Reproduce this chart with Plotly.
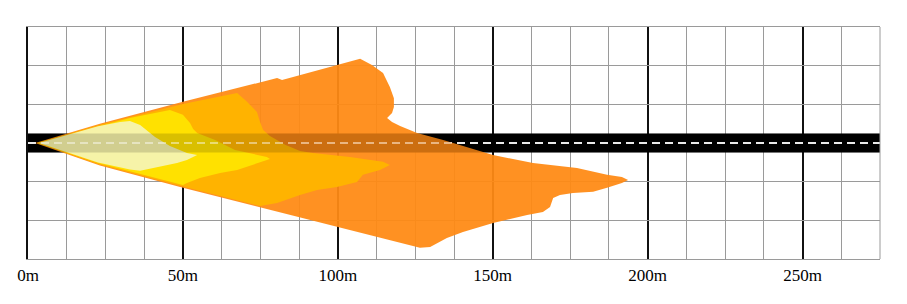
import plotly.graph_objects as go

# ---- axes ----
X_RANGE = [0, 275]
Y_RANGE = [-37.5, 37.5]
X_TICKS = [0, 50, 100, 150, 200, 250]
X_LABELS = ["0m", "50m", "100m", "150m", "200m", "250m"]
MINOR_STEP = 12.5
ROAD_HALF_WIDTH = 3.1

# ---- light pattern zones (metres: distance, lateral offset) ----
ORANGE_X = [2.3, 23.2, 50.0, 80.4, 82.0, 99.7, 107.2, 111.0, 114.6, 116.8, 118.1, 118.1,
            117.5, 115.9, 117.5, 120.1, 125.6, 134.0, 141.7, 150.1, 163.0, 177.2, 186.9,
            191.7, 193.7, 191.7, 186.9, 182.4, 175.9, 171.7, 169.5, 168.5, 166.2, 161.1,
            150.1, 140.4, 135.2, 129.8, 126.5, 100.1, 50.0, 23.2, 2.3]
ORANGE_Y = [0.0, 6.2, 13.3, 21.0, 20.4, 25.2, 27.2, 25.2, 22.6, 18.1, 14.5, 11.6,
            9.7, 8.1, 6.8, 5.5, 3.2, 1.0, -1.3, -3.9, -6.5, -8.1, -10.3,
            -11.0, -12.0, -12.9, -14.5, -15.8, -16.2, -16.8, -17.8, -20.7, -22.3, -23.3,
            -25.9, -28.8, -30.7, -33.6, -33.9, -27.2, -14.5, -7.3, 0.0]

AMBER_X = [2.9, 23.2, 50.0, 67.5, 70.7, 73.9, 74.9, 75.9, 78.1, 83.0, 87.8, 92.0, 103.9,
           114.6, 116.8, 113.6, 108.1, 106.2, 99.7, 93.3, 87.8, 80.4, 74.9, 50.0, 23.2, 2.9]
AMBER_Y = [0.0, 5.9, 12.6, 16.2, 13.3, 10.0, 6.8, 4.2, 2.3, -0.6, -2.6, -3.2, -4.5,
           -6.1, -7.1, -8.7, -10.3, -12.6, -14.2, -15.2, -16.8, -19.4, -20.4, -14.1, -7.0, 0.0]

YELLOW_X = [3.2, 23.2, 32.9, 45.8, 50.0, 52.3, 53.3, 54.6, 60.4, 66.8, 73.3, 77.1, 78.1,
            75.5, 72.6, 67.5, 62.0, 55.5, 51.3, 50.0, 23.2, 3.2]
YELLOW_Y = [0.0, 5.6, 8.1, 10.7, 9.1, 6.5, 4.5, 3.2, 1.0, -2.3, -3.6, -4.5, -5.2,
            -6.1, -7.1, -8.7, -9.7, -11.3, -12.9, -13.6, -6.6, 0.0]

LIGHT_X = [3.6, 22.6, 29.7, 32.9, 36.2, 38.7, 41.0, 45.8, 51.3, 54.6, 51.3, 48.1,
           40.3, 36.2, 32.9, 22.6, 3.6]
LIGHT_Y = [0.0, 5.4, 6.8, 7.1, 5.8, 3.6, 1.9, -1.0, -3.2, -3.9, -5.5, -6.5,
           -8.1, -9.0, -8.6, -6.3, 0.0]

ZONES = [
    (ORANGE_X, ORANGE_Y, "rgba(255,138,20,0.94)"),
    (AMBER_X, AMBER_Y, "#FFB300"),
    (YELLOW_X, YELLOW_Y, "#FFE100"),
    (LIGHT_X, LIGHT_Y, "#F6F3A8"),
]

fig = go.Figure()
for xs, ys, col in ZONES:
    fig.add_trace(go.Scatter(x=xs, y=ys, mode="lines", fill="toself", fillcolor=col,
                             line=dict(width=0, color=col), hoverinfo="skip",
                             showlegend=False))

# road (below the pattern)
fig.add_shape(type="rect", xref="x", yref="y", x0=X_RANGE[0], x1=X_RANGE[1],
              y0=-ROAD_HALF_WIDTH, y1=ROAD_HALF_WIDTH, fillcolor="black",
              line=dict(width=0), layer="between")
fig.add_shape(type="line", xref="x", yref="y", x0=X_RANGE[0], x1=X_RANGE[1], y0=0, y1=0,
              line=dict(color="white", width=2, dash="8px,5px"), layer="between")
# translucent road over the pattern
fig.add_shape(type="rect", xref="x", yref="y", x0=X_RANGE[0], x1=X_RANGE[1],
              y0=-ROAD_HALF_WIDTH, y1=ROAD_HALF_WIDTH, fillcolor="rgba(0,0,0,0.15)",
              line=dict(width=0), layer="above")
fig.add_shape(type="line", xref="x", yref="y", x0=X_RANGE[0], x1=X_RANGE[1], y0=0, y1=0,
              line=dict(color="rgba(255,255,255,0.45)", width=2, dash="8px,5px"),
              layer="above")
# right frame border
fig.add_shape(type="line", xref="paper", yref="paper", x0=1, x1=1, y0=0, y1=1,
              line=dict(color="#9a9a9a", width=1), layer="above")

fig.update_layout(
    width=907, height=304,
    margin=dict(l=28, r=27, t=27, b=45),
    paper_bgcolor="white", plot_bgcolor="white",
    font=dict(family="Liberation Serif", size=17, color="black"),
    showlegend=False,
    xaxis=dict(range=X_RANGE, tickmode="array", tickvals=X_TICKS, ticktext=X_LABELS,
               showgrid=True, gridcolor="#111111", gridwidth=2,
               minor=dict(tickmode="linear", tick0=0, dtick=MINOR_STEP, showgrid=True,
                          gridcolor="#9a9a9a", gridwidth=1),
               zeroline=False,
               showline=True, linecolor="#9a9a9a", linewidth=1, mirror=True,
               ticks="", ticklabelstandoff=1, fixedrange=True),
    yaxis=dict(range=Y_RANGE, tickmode="linear", tick0=0, dtick=MINOR_STEP,
               showgrid=True, gridcolor="#9a9a9a", gridwidth=1,
               zeroline=False, showticklabels=False, ticks="",
               showline=True, linecolor="#111111", linewidth=2, mirror=False,
               fixedrange=True),
)

fig.write_html("out.html")
